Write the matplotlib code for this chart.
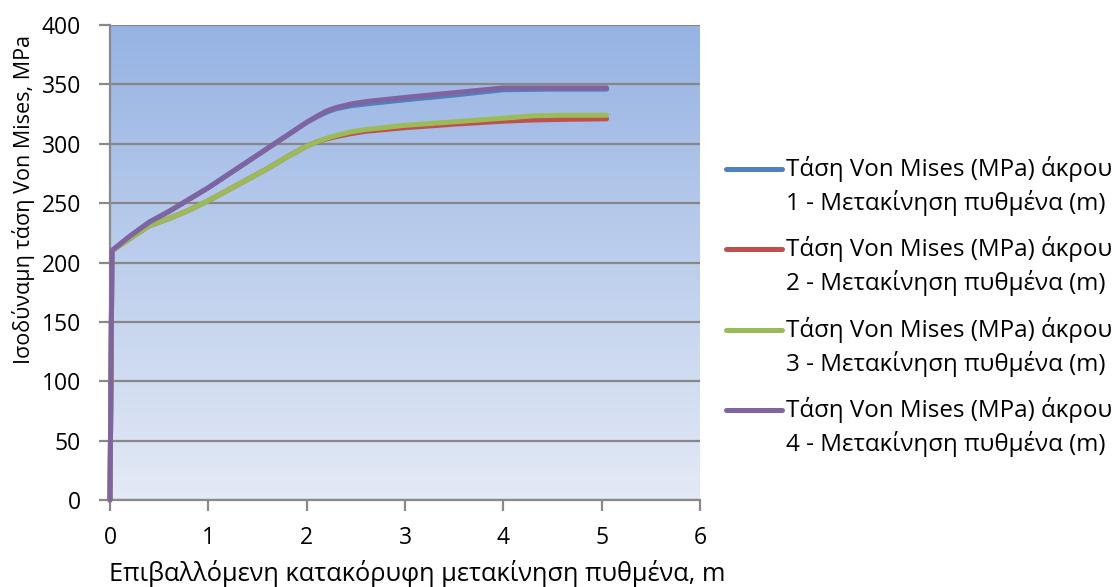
import numpy as np
import matplotlib
matplotlib.use("Agg")
import matplotlib.pyplot as plt
from matplotlib.lines import Line2D
from matplotlib.colors import LinearSegmentedColormap

plt.rcParams['font.family'] = ['Open Sans', 'DejaVu Sans']

# Displacement of the bottom (m) and Von Mises stress at each tip (MPa)
x_upper = [0.0, 0.02, 0.2, 0.4, 0.6, 0.8, 1.0, 1.2, 1.4, 1.6, 1.8, 2.0, 2.1, 2.2,
           2.3, 2.45, 2.6, 3.0, 3.5, 4.0, 4.5, 5.05]
tip1 = [0, 210, 222, 234, 243, 253, 263, 274, 285, 296, 307, 318, 322.5, 326.5,
        329.5, 332, 333.5, 337, 341, 345.5, 346, 346]
tip4 = [0, 210, 222, 234, 243, 253, 263, 274, 285, 296, 307, 318, 323, 327.5,
        330.5, 333.5, 335.5, 339, 343, 347, 347, 347]

x_lower = [0.0, 0.02, 0.2, 0.4, 0.6, 0.8, 1.0, 1.2, 1.4, 1.6, 1.8, 2.0, 2.1, 2.2,
           2.3, 2.45, 2.6, 3.0, 3.5, 4.0, 4.3, 4.6, 5.05]
tip2 = [0, 210, 220, 231, 237, 244, 252, 261, 270, 279, 289, 298, 301.5, 304,
        306, 308.5, 310.5, 313.5, 316.5, 319, 320, 320.5, 321]
tip3 = [0, 210, 220, 231, 237, 244, 252, 261, 270, 279, 289, 298, 301.5, 304.5,
        307, 310, 312, 315.5, 318.5, 321.5, 323.5, 324, 324]

series = [
    (x_upper, tip1, '#4f81bd', 'Τάση Von Mises (MPa) άκρου\n1 - Μετακίνηση πυθμένα (m)'),
    (x_lower, tip2, '#c0504d', 'Τάση Von Mises (MPa) άκρου\n2 - Μετακίνηση πυθμένα (m)'),
    (x_lower, tip3, '#9bbb59', 'Τάση Von Mises (MPa) άκρου\n3 - Μετακίνηση πυθμένα (m)'),
    (x_upper, tip4, '#8064a2', 'Τάση Von Mises (MPa) άκρου\n4 - Μετακίνηση πυθμένα (m)'),
]

x_ticks = [0, 1, 2, 3, 4, 5, 6]
y_ticks = [0, 50, 100, 150, 200, 250, 300, 350, 400]

W, H = 1119, 587
fig = plt.figure(figsize=(W / 100, H / 100), dpi=100)
ax = fig.add_axes([110 / W, (H - 500) / H, 590 / W, 475 / H])

# vertical gradient background of the plot area
grad = LinearSegmentedColormap.from_list('bg', ['#e4eaf6', '#96b3e3'])
ax.imshow(np.linspace(0, 1, 256).reshape(-1, 1), cmap=grad, origin='lower',
          aspect='auto', extent=[0, 1, 0, 1], transform=ax.transAxes, zorder=0)

ax.set_xlim(0, 6)
ax.set_ylim(0, 400)
ax.set_xticks(x_ticks)
ax.set_yticks(y_ticks)
ax.yaxis.grid(True, color='#878787', linewidth=1.6, zorder=1)
ax.set_axisbelow(True)

for xs, ys, c, lab in series:
    ax.plot(xs, ys, color=c, linewidth=3.6, solid_capstyle='round',
            solid_joinstyle='round', zorder=3, clip_on=False)

for s in ('top', 'right'):
    ax.spines[s].set_visible(False)
for s in ('left', 'bottom'):
    ax.spines[s].set_color('#898989')
    ax.spines[s].set_linewidth(1.6)
ax.tick_params(axis='both', colors='#898989', width=1.6, length=8,
               labelcolor='black', labelsize=16.5)
ax.tick_params(axis='y', pad=13)
ax.tick_params(axis='x', pad=11)

# axis titles placed in pixel coordinates (origin at top-left)
fig.text(417.5 / W, 1 - 581 / H, 'Επιβαλλόμενη κατακόρυφη μετακίνηση πυθμένα, m',
         fontsize=18.3, ha='center', va='baseline')
fig.text(30 / W, 1 - 200 / H, 'Ισοδύναμη τάση Von Mises, MPa', fontsize=15.5,
         rotation=90, rotation_mode='anchor', ha='center', va='baseline')

# legend: a short line next to the first line of each two-line label
for i, (xs, ys, c, lab) in enumerate(series):
    yc = 169 + 80.3 * i
    fig.add_artist(Line2D([726 / W, 782 / W], [1 - yc / H, 1 - yc / H],
                          color=c, linewidth=3.6, solid_capstyle='round'))
    first, second = lab.split('\n')
    fig.text(786 / W, 1 - yc / H, first, fontsize=17.4, va='center', ha='left')
    fig.text(786 / W, 1 - (yc + 34) / H, second, fontsize=17.4, va='center', ha='left')

fig.savefig('out.png', dpi=100, facecolor='white')
